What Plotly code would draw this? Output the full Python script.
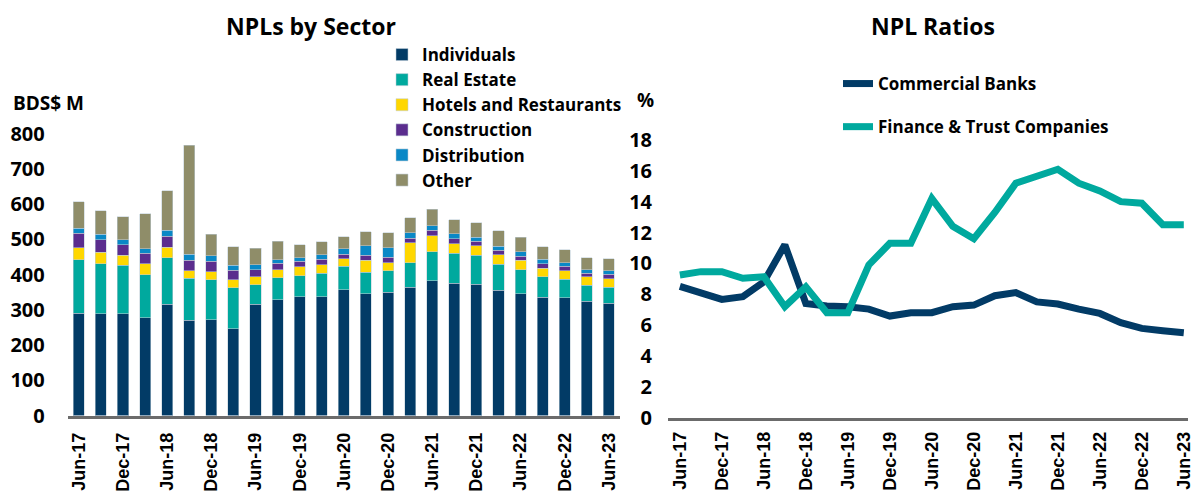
import plotly.graph_objects as go

W, H = 1197, 494

categories = ["Jun-17", "Sep-17", "Dec-17", "Mar-18", "Jun-18", "Sep-18", "Dec-18", "Mar-19",
              "Jun-19", "Sep-19", "Dec-19", "Mar-20", "Jun-20", "Sep-20", "Dec-20", "Mar-21",
              "Jun-21", "Sep-21", "Dec-21", "Mar-22", "Jun-22", "Sep-22", "Dec-22", "Mar-23", "Jun-23"]

individuals = [290, 288, 288, 278, 316, 270, 272, 246, 316, 329, 337, 337, 357, 345, 350, 364,
               382, 375, 373, 356, 346, 335, 334, 324, 319]
real_estate = [152, 143, 138, 122, 132, 119, 113, 117, 55, 62, 60, 66, 66, 62, 61, 70,
               82, 85, 81, 73, 68, 59, 52, 45, 45]
hotels = [34, 32, 29, 30, 29, 21, 23, 22, 22, 22, 25, 25, 22, 33, 23, 56,
          46, 27, 27, 27, 27, 24, 24, 25, 24]
construction = [41, 36, 30, 30, 31, 30, 29, 27, 21, 19, 16, 15, 13, 15, 15, 13,
                15, 15, 13, 13, 11, 12, 13, 10, 13]
distribution = [14, 15, 14, 13, 17, 17, 16, 14, 14, 10, 10, 13, 15, 26, 27, 15,
                14, 13, 11, 11, 12, 13, 10, 10, 9]
other = [75, 67, 65, 100, 112, 309, 61, 53, 46, 52, 36, 37, 34, 40, 43, 43,
         46, 40, 42, 44, 41, 36, 37, 33, 34]

commercial_banks = [8.5, 8.05, 7.66, 7.84, 8.8, 11.2, 7.4, 7.23, 7.19, 7.03, 6.58, 6.8, 6.8,
                    7.19, 7.29, 7.9, 8.1, 7.5, 7.36, 7.03, 6.75, 6.15, 5.78, 5.63, 5.5]
finance_trust = [9.24, 9.46, 9.46, 9.03, 9.13, 7.19, 8.48, 6.8, 6.8, 9.9, 11.3, 11.3, 14.2,
                 12.4, 11.6, 13.3, 15.2, 15.7, 16.1, 15.2, 14.7, 14.0, 13.9, 12.5, 12.5]

tick_labels = categories[::2]
left_ticks = [0, 100, 200, 300, 400, 500, 600, 700, 800]
right_ticks = [0, 2, 4, 6, 8, 10, 12, 14, 16, 18]

NAVY = "#023B66"
TEAL = "#00A99E"
sector_series = [
    ("Individuals", individuals, NAVY),
    ("Real Estate", real_estate, TEAL),
    ("Hotels and Restaurants", hotels, "#FFD700"),
    ("Construction", construction, "#5B2D8E"),
    ("Distribution", distribution, "#0A88C6"),
    ("Other", other, "#8F8D69"),
]

MAIN_FONT = "'Open Sans', Lato, sans-serif"
TICK_FONT = "'Liberation Sans', Arial, sans-serif"

fig = go.Figure()
for name, vals, col in sector_series:
    fig.add_trace(go.Bar(
        x=categories, y=vals, name=name, xaxis="x", yaxis="y",
        marker=dict(color=col, line=dict(color="rgba(190,205,215,0.9)", width=0.6)),
        legend="legend",
    ))

fig.add_trace(go.Scatter(
    x=categories, y=commercial_banks, name="Commercial Banks", mode="lines",
    line=dict(color=NAVY, width=7), xaxis="x2", yaxis="y2", legend="legend2",
    legendgroup="cb",
))
fig.add_trace(go.Scatter(
    x=categories, y=finance_trust, name="Finance & Trust Companies", mode="lines",
    line=dict(color=TEAL, width=7), xaxis="x2", yaxis="y2", legend="legend2",
    legendgroup="ft",
))

def px(x):
    return x / W

def py(y):
    return (H - y) / H

xtick_font = dict(family=TICK_FONT, size=18, color="black", weight="bold")
ytick_font = dict(family=MAIN_FONT, size=20, color="black", weight="bold")

fig.update_layout(
    width=W, height=H,
    template="none",
    paper_bgcolor="white", plot_bgcolor="white",
    margin=dict(l=0, r=0, t=0, b=0),
    barmode="stack", bargap=0.5,
    showlegend=True,
    xaxis=dict(
        domain=[px(67.75), px(620)], type="category", categoryorder="array",
        categoryarray=categories, range=[-0.5, 24.5],
        tickmode="array", tickvals=tick_labels, ticktext=tick_labels,
        tickangle=-90, tickfont=xtick_font, ticks="outside", ticklen=7,
        tickcolor="rgba(0,0,0,0)", showline=True, linecolor="#6B6B6B", linewidth=3,
        showgrid=False, zeroline=False, automargin=False,
    ),
    yaxis=dict(
        domain=[py(415.5), py(133.5)], range=[0, 800], tickmode="array",
        tickvals=left_ticks, tickfont=ytick_font, ticks="outside", ticklen=18,
        tickcolor="rgba(0,0,0,0)", showline=False, showgrid=False, zeroline=False,
        automargin=False,
    ),
    xaxis2=dict(
        domain=[px(668), px(1188)], type="category", categoryorder="array",
        categoryarray=categories, range=[-0.565, 24.2],
        tickmode="array", tickvals=tick_labels, ticktext=tick_labels,
        tickangle=-90, tickfont=xtick_font, ticks="outside", ticklen=4,
        tickcolor="rgba(0,0,0,0)", showline=True, linecolor="#6B6B6B", linewidth=3,
        showgrid=False, zeroline=False, automargin=False, anchor="y2",
    ),
    yaxis2=dict(
        domain=[py(417.5), py(140)], range=[0, 18], tickmode="array",
        tickvals=right_ticks, tickfont=ytick_font, ticks="outside", ticklen=11,
        tickcolor="rgba(0,0,0,0)", showline=False, showgrid=False, zeroline=False,
        automargin=False, anchor="x2",
    ),
    legend=dict(
        x=px(382), y=py(37), xanchor="left", yanchor="top",
        font=dict(family=MAIN_FONT, size=17, color="black", weight="bold"),
        bgcolor="rgba(0,0,0,0)", traceorder="normal", tracegroupgap=0,
        itemclick=False, itemdoubleclick=False,
    ),
    legend2=dict(
        x=px(838), y=py(66), xanchor="left", yanchor="top",
        font=dict(family=MAIN_FONT, size=17, color="black", weight="bold"),
        bgcolor="rgba(0,0,0,0)", traceorder="grouped", tracegroupgap=18,
        itemclick=False, itemdoubleclick=False,
    ),
    annotations=[
        dict(text="NPLs by Sector", x=px(311), y=py(26), xref="paper", yref="paper",
             showarrow=False, xanchor="center", yanchor="middle",
             font=dict(family=MAIN_FONT, size=23, color="black", weight="bold")),
        dict(text="NPL Ratios", x=px(933), y=py(26), xref="paper", yref="paper",
             showarrow=False, xanchor="center", yanchor="middle",
             font=dict(family=MAIN_FONT, size=23, color="black", weight="bold")),
        dict(text="BDS$ M", x=px(11), y=py(103), xref="paper", yref="paper",
             showarrow=False, xanchor="left", yanchor="middle",
             font=dict(family=MAIN_FONT, size=19, color="black", weight="bold")),
        dict(text="%", x=px(645), y=py(100), xref="paper", yref="paper",
             showarrow=False, xanchor="center", yanchor="middle",
             font=dict(family=MAIN_FONT, size=19, color="black", weight="bold")),
    ],
)

fig.write_html("out.html", config={"displayModeBar": False},
               post_script="document.body.style.margin='0px';")
